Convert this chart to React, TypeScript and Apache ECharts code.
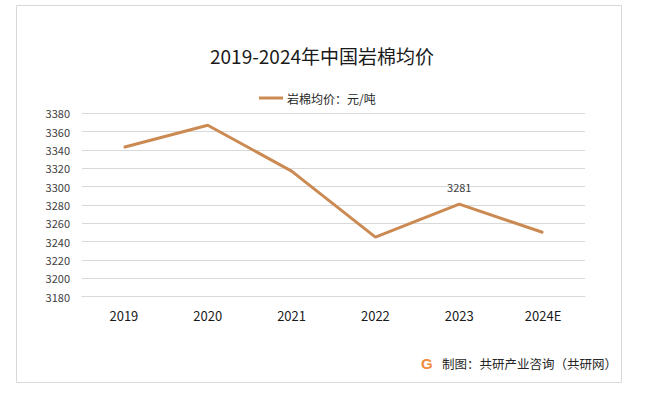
import React, { useEffect, useRef } from "react";
import * as echarts from "echarts";

const categories = ["2019", "2020", "2021", "2022", "2023", "2024E"];
const prices = [3343, 3367, 3317, 3245, 3281, 3250];
const labelledIndex = 4;
const seriesName = "岩棉均价：元/吨";
const titleText = "2019-2024年中国岩棉均价";
const footerText = "制图：共研产业咨询（共研网）";

export default function App() {
  const ref = useRef<HTMLDivElement>(null);
  useEffect(() => {
    document.body.style.margin = "0";
    const chart = echarts.init(ref.current!, null, { renderer: "svg" });
    const font = "'Noto Sans CJK SC', 'Noto Sans', sans-serif";
    chart.setOption({
      animation: false,
      backgroundColor: "#ffffff",
      textStyle: { fontFamily: font },
      title: {
        text: titleText,
        left: 317,
        textAlign: "center",
        top: 41,
        textStyle: { fontSize: 19, fontWeight: "normal", color: "#1a1a1a", fontFamily: font },
      },
      legend: {
        data: [seriesName],
        top: 87,
        left: 254,
        itemWidth: 24,
        itemHeight: 3,
        itemGap: 5,
        icon: "rect",
        textStyle: { fontSize: 12, color: "#262626", fontFamily: font, padding: [0, 0, 0, -1] },
      },
      grid: { left: 82, right: 78, top: 113.3, bottom: 100.3 },
      xAxis: {
        type: "category",
        data: categories,
        boundaryGap: true,
        axisLine: { show: true, lineStyle: { color: "#D9D9D9" } },
        axisTick: { show: false },
        axisLabel: { fontSize: 13, color: "#1a1a1a", margin: 12, fontFamily: font },
      },
      yAxis: {
        type: "value",
        min: 3180,
        max: 3380,
        interval: 20,
        axisLine: { show: false },
        axisTick: { show: false },
        axisLabel: {
          fontSize: 11,
          color: "#404040",
          margin: 12,
          fontFamily: font,
          formatter: (v: number) => String(v),
        },
        splitLine: { lineStyle: { color: "#D9D9D9", width: 1 } },
      },
      series: [
        {
          name: seriesName,
          type: "line",
          data: prices.map((v, i) =>
            i === labelledIndex
              ? { value: v, label: { show: true, position: "top", distance: 11, fontSize: 11, color: "#404040" } }
              : v
          ),
          symbol: "circle",
          symbolSize: 1,
          showSymbol: true,
          lineStyle: { color: "#CC8A53", width: 3 },
          itemStyle: { color: "#CC8A53" },
        },
      ],
      graphic: [
        {
          type: "rect",
          shape: { x: 16.5, y: 5.5, width: 605, height: 377 },
          style: { fill: "none", stroke: "#D9D9D9", lineWidth: 1 },
          silent: true,
        },
        {
          type: "text",
          x: 421,
          y: 356,
          style: {
            text: "G",
            fontSize: 15,
            fontWeight: "bold",
            fontFamily: "Arial, sans-serif",
            fill: "#F08A3C",
          },
        },
        {
          type: "text",
          x: 442,
          y: 357,
          style: { text: footerText, fontSize: 12.5, fill: "#262626", fontFamily: font },
        },
      ],
    });
    return () => chart.dispose();
  }, []);
  return (
    <div
      ref={ref}
      style={{ position: "fixed", left: 0, top: 0, width: 663, height: 397 }}
    />
  );
}
